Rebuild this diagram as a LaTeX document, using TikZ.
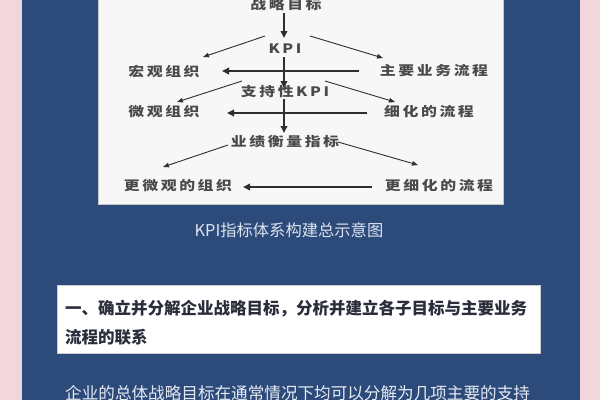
\documentclass[tikz,border=0pt]{standalone}
\usepackage{fontspec}
\newfontfamily\cjk{Noto Sans CJK SC}
\newfontfamily\cjksp[LetterSpace=20,FakeStretch=1.22]{Noto Sans CJK SC}
\usetikzlibrary{arrows.meta}
\definecolor{pinkbg}{HTML}{F1D6DB}
\definecolor{navy}{HTML}{2C4A7A}
\definecolor{boxwhite}{HTML}{F7F7F7}
\definecolor{lbl}{HTML}{4A4A4A}
\definecolor{arr}{HTML}{2E2E2E}
\definecolor{cap}{HTML}{DCE3EE}
\definecolor{headtxt}{HTML}{2A2D3A}
\definecolor{bodytxt}{HTML}{E6EBF2}
\begin{document}
\begin{tikzpicture}[x=1pt,y=-1pt,
  lab/.style={font=\cjksp\fontsize{13}{13}\selectfont\bfseries, text=lbl, inner sep=0pt},
  thickarr/.style={line width=1.8pt, draw=arr, -{Triangle[length=7pt,width=6.5pt]}},
  thinarr/.style={line width=0.9pt, draw=arr, -{Triangle[length=6pt,width=4.5pt]}},
  headtext/.style={font=\cjk\fontsize{16.5}{16.5}\selectfont\bfseries, text=headtxt, inner sep=0pt, anchor=west},
  bodytext/.style={font=\cjk\fontsize{16.6}{16.6}\selectfont, text=bodytxt, inner sep=0pt, anchor=west}]
\useasboundingbox (0,0) rectangle (600,400);
\clip (0,0) rectangle (600,400);
% backgrounds
\fill[pinkbg] (0,0) rectangle (600,400);
\fill[navy] (22,0) rectangle (580,400);
\filldraw[fill=boxwhite, draw=gray!45, line width=0.5pt] (98,-2) rectangle (503,204);
\filldraw[fill=white, draw=gray!40, line width=0.5pt] (57,285) rectangle (540,353);
% labels
\node[lab] (goal) at (286,5) {战略目标};
\node[lab] (kpi) at (285,49) {KPI};
\node[lab] (macro) at (164,71) {宏观组织};
\node[lab] (mainproc) at (434,71) {主要业务流程};
\node[lab] (supp) at (285,92) {支持性KPI};
\node[lab] (micro) at (164,112) {微观组织};
\node[lab] (detail) at (429,112) {细化的流程};
\node[lab] (perf) at (285,142) {业绩衡量指标};
\node[lab] (moremicro) at (178,186) {更微观的组织};
\node[lab] (moredetail) at (439,186) {更细化的流程};
% connector end points
\coordinate (g1) at (284,13);  \coordinate (k1) at (284,38);
\coordinate (k2) at (284,57);  \coordinate (s1) at (284,88);
\coordinate (s2) at (284,99);  \coordinate (p1) at (284,133);
\coordinate (kl) at (265,36);  \coordinate (ml) at (203,57);
\coordinate (kr) at (310,36);  \coordinate (mr) at (383,58);
\coordinate (sl) at (242,81);  \coordinate (ul) at (177,102);
\coordinate (sr) at (325,81);  \coordinate (ur) at (395,102);
\coordinate (pl) at (228,145); \coordinate (vl) at (163,167);
\coordinate (pr) at (338,142); \coordinate (vr) at (418,165);
\coordinate (h1a) at (359,71); \coordinate (h1b) at (222,71);
\coordinate (h2a) at (367,113); \coordinate (h2b) at (227,113);
\coordinate (h3a) at (372,187); \coordinate (h3b) at (243,187);
% connectors
\draw[thickarr] (h1a) -- (h1b);
\draw[thickarr] (h2a) -- (h2b);
\draw[thickarr] (h3a) -- (h3b);
\draw[thickarr] (g1) -- (k1);
\draw[thickarr] (k2) -- (s1);
\draw[thickarr] (s2) -- (p1);
\draw[thinarr] (kl) -- (ml);
\draw[thinarr] (kr) -- (mr);
\draw[thinarr] (sl) -- (ul);
\draw[thinarr] (sr) -- (ur);
\draw[thinarr] (pl) -- (vl);
\draw[thinarr] (pr) -- (vr);
% caption and text
\node[font=\cjk\fontsize{16.3}{16.3}\selectfont, text=cap, inner sep=0pt] (caption) at (289,230) {KPI指标体系构建总示意图};
\node[headtext] (head1) at (65,309) {一、确立并分解企业战略目标，分析并建立各子目标与主要业务};
\node[headtext] (head2) at (65,337) {流程的联系};
\node[bodytext] (body1) at (65,393) {企业的总体战略目标在通常情况下均可以分解为几项主要的支持};
\end{tikzpicture}
\end{document}
